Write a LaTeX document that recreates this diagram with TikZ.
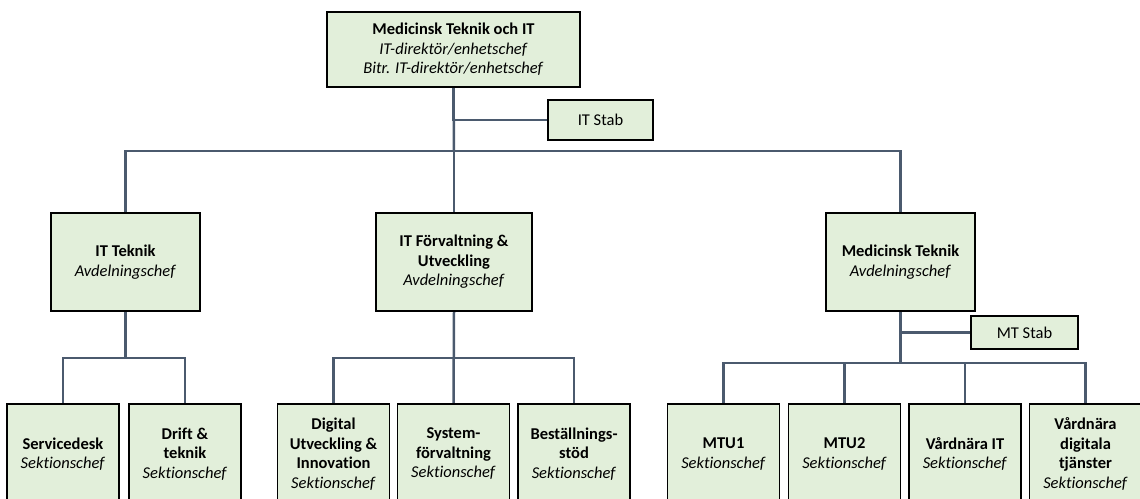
\documentclass[tikz,border=0pt]{standalone}
\usepackage{fontspec}
\setmainfont{Carlito}[Ligatures={NoCommon}]
\usetikzlibrary{backgrounds}
\definecolor{boxfill}{HTML}{E2EFDA}
\definecolor{linecol}{HTML}{4B5A6E}
\begin{document}
\begin{tikzpicture}[x=1pt,y=-1pt,
  box/.style={draw=black, line width=1.4pt, fill=boxfill, align=center, inner sep=2pt,
    font=\fontsize{16.5}{19.5}\selectfont},
  conn/.style={draw=linecol, line width=2.5pt}]
\useasboundingbox (0,0) rectangle (1140,498);
\clip (0,0) rectangle (1140,498);
% boxes
\node[box, minimum width=253pt, minimum height=75pt] (top) at (453.5,49.5)
  {\textbf{Medicinsk Teknik och IT}\\\textit{IT-direktör/enhetschef}\\\textit{Bitr. IT-direktör/enhetschef}};
\node[box, minimum width=105pt, minimum height=40pt] (itstab) at (600.5,120) {IT Stab};
\node[box, minimum width=149pt, minimum height=98pt] (itt) at (125.5,262)
  {\textbf{IT Teknik}\\\textit{Avdelningschef}};
\node[box, minimum width=156pt, minimum height=98pt] (itf) at (454,262)
  {\textbf{IT Förvaltning \&}\\\textbf{Utveckling}\\\textit{Avdelningschef}};
\node[box, minimum width=149pt, minimum height=98pt] (mt) at (900.5,262)
  {\textbf{Medicinsk Teknik}\\\textit{Avdelningschef}};
\node[box, minimum width=107pt, minimum height=33pt] (mtstab) at (1024.5,332.5) {MT Stab};
\tikzset{leaf/.style={box, minimum width=112pt, minimum height=100pt}}
\node[leaf] (sd) at (63,454) {\textbf{Servicedesk}\\\textit{Sektionschef}};
\node[leaf] (dt) at (185,454) {\textbf{Drift \&}\\\textbf{teknik}\\\textit{Sektionschef}};
\node[leaf] (dig) at (333.5,454) {\textbf{Digital}\\\textbf{Utveckling \&}\\\textbf{Innovation}\\\textit{Sektionschef}};
\node[leaf] (sys) at (453.5,454) {\textbf{System-}\\\textbf{förvaltning}\\\textit{Sektionschef}};
\node[leaf] (bes) at (574,454) {\textbf{Beställnings-}\\\textbf{stöd}\\\textit{Sektionschef}};
\node[leaf] (mtu1) at (723.5,454) {\textbf{MTU1}\\\textit{Sektionschef}};
\node[leaf] (mtu2) at (844.5,454) {\textbf{MTU2}\\\textit{Sektionschef}};
\node[leaf] (vit) at (965,454) {\textbf{Vårdnära IT}\\\textit{Sektionschef}};
\node[leaf] (vdt) at (1085.5,454) {\textbf{Vårdnära}\\\textbf{digitala}\\\textbf{tjänster}\\\textit{Sektionschef}};
% bus coordinates
\coordinate (b1) at (454,151);
\coordinate (b2) at (125.5,358);
\coordinate (b3) at (454,358);
\coordinate (b4) at (900.5,363);
% connectors
\begin{pgfonlayer}{background}
\draw[conn] (top.south) |- (itstab.west);
\draw[conn] (top.south) -- (b1);
\draw[conn] (itt.north) |- (b1) -| (mt.north);
\draw[conn] (itf.north) -- (b1);
\draw[conn] (itt.south) -- (b2);
\draw[conn] (sd.north) |- (b2) -| (dt.north);
\draw[conn] (itf.south) -- (sys.north);
\draw[conn] (dig.north) |- (b3) -| (bes.north);
\draw[conn] (mt.south) |- (mtstab.west);
\draw[conn] (mt.south) -- (b4);
\draw[conn] (mtu1.north) |- (b4) -| (vdt.north);
\draw[conn] (mtu2.north) -- (mtu2.north |- b4);
\draw[conn] (vit.north) -- (vit.north |- b4);
\end{pgfonlayer}
\end{tikzpicture}
\end{document}
